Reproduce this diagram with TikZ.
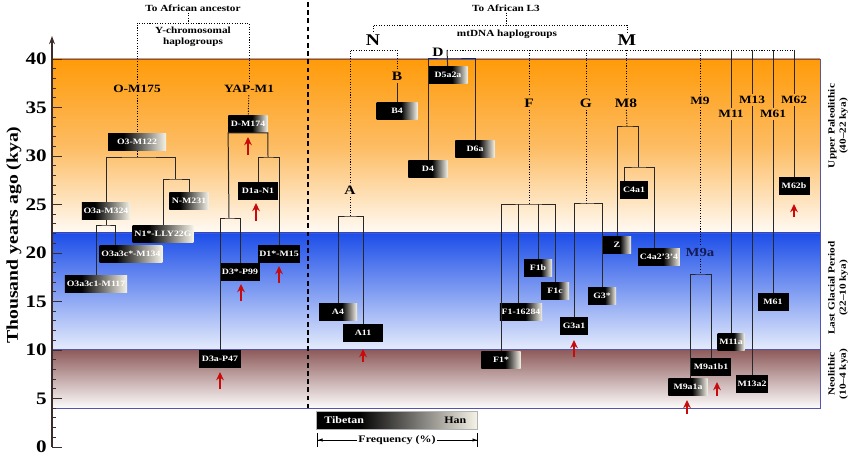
\documentclass[tikz,border=0pt]{standalone}
\usepackage{fontspec}
\setmainfont{Liberation Serif}[FakeStretch=1.2]
\usetikzlibrary{arrows.meta}

\definecolor{boxend}{RGB}{246,243,232}
\definecolor{upperband}{RGB}{255,155,10}
\definecolor{uppermid}{RGB}{253,188,98}
\definecolor{glacialband}{RGB}{28,78,232}
\definecolor{glacialend}{RGB}{228,235,252}
\definecolor{neoband}{RGB}{140,88,88}
\definecolor{bandline}{RGB}{85,85,175}
\definecolor{axiscol}{RGB}{60,45,45}
\definecolor{treecol}{RGB}{40,40,40}
\definecolor{gainred}{RGB}{200,10,10}
\definecolor{ninea}{RGB}{20,28,85}

\pgfdeclarehorizontalshading{fadeshort}{100bp}{color(0bp)=(black); color(25bp)=(black); color(55bp)=(black); color(75bp)=(boxend); color(100bp)=(boxend)}
\pgfdeclarehorizontalshading{fadelong}{100bp}{color(0bp)=(black); color(25bp)=(black); color(38bp)=(black); color(75bp)=(boxend); color(100bp)=(boxend)}

\begin{document}
\begin{tikzpicture}[x=0.03cm, y=-0.03cm,
    hap box/.style={rectangle, text=white, font=\fontsize{7}{8}\selectfont\bfseries,
      minimum height=0.52cm, minimum width=1.18cm, inner xsep=1.5pt, inner ysep=1pt},
    dark box/.style={hap box, fill=black},
    fade box/.style={hap box, shading=fadeshort},
    long box/.style={hap box, shading=fadelong},
    clade/.style={font=\fontsize{9.5}{10}\selectfont\bfseries, inner sep=2pt},
    big clade/.style={clade, font=\fontsize{11}{12}\selectfont\bfseries},
    root clade/.style={clade, font=\fontsize{14}{15}\selectfont\bfseries},
    caption/.style={font=\fontsize{8}{9.5}\selectfont\bfseries, align=center, inner sep=1pt},
    period/.style={caption, rotate=90},
    legend text/.style={font=\fontsize{8.5}{9}\selectfont\bfseries, inner sep=1pt},
    branch/.style={draw=treecol, line width=0.85pt},
    link/.style={draw=black, line width=0.8pt, dash pattern=on 0.9pt off 1.3pt},
    gain/.style={draw=gainred, line width=1.3pt, -{Stealth[length=7pt, width=6.5pt]}},
  ]
  \useasboundingbox (0,0) rectangle (850,459);

  % period bands
  \shade[top color=upperband, bottom color=white!96!upperband, middle color=uppermid] (52,59) rectangle (820,233);
  \shade[top color=glacialband, bottom color=glacialend] (52,233) rectangle (820,349);
  \shade[top color=neoband, bottom color=white!98!neoband] (52,349) rectangle (820,408);
  \draw[bandline, line width=0.6pt] (52,59) -- (820,59) -- (820,408) -- (52,408)
    (52,233) -- (820,233) (52,349) -- (820,349);
  \node[period] (upper) at (838,126) {Upper Paleolithic\\(40--22 kya)};
  \node[period] (glacial) at (838,288) {Last Glacial Period\\(22--10 kya)};
  \node[period] (neo) at (838,374) {Neolithic\\(10--4 kya)};

  % time axis
  \draw[axiscol, line width=1pt, -{Stealth[length=7pt, width=5pt]}] (52,447) -- (52,36);
  \foreach \k in {0,...,40}
    \draw[axiscol, line width=0.8pt] (52,{447-9.7*\k}) -- ++(4,0);
  \foreach \k in {0,5,...,40}{
    \draw[axiscol, line width=0.8pt] (52,{447-9.7*\k}) -- ++(10,0);
    \node[anchor=east, font=\fontsize{15}{16}\selectfont\bfseries, inner sep=1pt] at (48,{447-9.7*\k}) {\k};
  }
  \node[rotate=90, font=\fontsize{14}{16}\selectfont\bfseries] (ytitle) at (14,235) {Thousand years ago (kya)};

  \draw[line width=1.2pt, dash pattern=on 4pt off 3pt] (308,2) -- (308,408);

  % Y-chromosome
  \node[caption] (toanc) at (193,8) {To African ancestor};
  \node[caption] (ychr) at (193,37) {Y-chromosomal\\haplogroups};
  \coordinate (yj) at (188,23);
  \node[clade] (OM175) at (137,89) {O-M175};
  \node[clade] (YAPM1) at (249,89) {YAP-M1};
  \draw[link] (toanc.south -| yj) -- (yj);
  \draw[link] (OM175.north) |- (yj) -| (YAPM1.north);

  \node[long box, minimum width=1.74cm] (O3M122) at (137,142) {O3-M122};
  \node[long box, minimum width=1.41cm] (O3aM324) at (106,211) {O3a-M324};
  \node[long box] (NM231) at (189,201) {N-M231};
  \node[long box, minimum width=1.65cm] (N1LLY) at (163,234) {N1*-LLY22G};
  \node[long box, minimum width=1.86cm] (O3a3cM134) at (131,254) {O3a3c*-M134};
  \node[long box, minimum width=1.8cm] (O3a3c1M117) at (96,284) {O3a3c1-M117};
  \coordinate (oj) at (137,157);
  \coordinate (nj) at (175,179);
  \coordinate (o3j) at (106,225);
  \draw[link] (OM175) -- (O3M122);
  \draw[link] (O3M122) -- (oj);
  \draw[branch] (O3aM324.north) |- (oj) -| (nj);
  \draw[branch] (N1LLY.north) |- (nj) -| (NM231.north);
  \draw[branch] (O3aM324) -- (o3j);
  \draw[branch] (O3a3c1M117.north) |- (o3j) -| ([xshift=-0.48cm]O3a3cM134.north);

  \node[fade box] (DM174) at (248,124) {D-M174};
  \node[dark box] (D1aN1) at (258,191) {D1a-N1};
  \node[dark box] (D1sM15) at (279,254) {D1*-M15};
  \node[dark box] (D3sP99) at (240,272) {D3*-P99};
  \node[dark box, minimum width=1.26cm] (D3aP47) at (220,359) {D3a-P47};
  \coordinate (d1j) at (268,157);
  \coordinate (d3j) at (229,218);
  \draw[link] (YAPM1) -- (DM174);
  \draw[branch] (d3j) -- (DM174.south west) -- (DM174.south east) -- (d1j);
  \draw[branch] (D3aP47.north) |- (d3j) -| (D3sP99.north);
  \draw[branch] (D1aN1.north) |- (d1j) -| (D1sM15.north);

  % mtDNA
  \node[caption] (tol3) at (506,8) {To African L3};
  \node[caption] (mtdna) at (507,34) {mtDNA haplogroups};
  \coordinate (l3j) at (506,25);
  \node[root clade] (N) at (373,40) {N};
  \node[root clade] (M) at (627,40) {M};
  \draw[link] (tol3) -- (l3j);
  \draw[link] (N.north) |- (l3j) -| (M.north);

  \coordinate (nlj) at (373,50);
  \node[big clade] (A) at (350,190) {A};
  \node[big clade] (B) at (397,76) {B};
  \draw[link] (A.north) |- (nlj) -| (B.north);
  \node[fade box, minimum width=1.23cm] (B4) at (397,111) {B4};
  \draw[branch] (B) -- (B4);
  \node[fade box, minimum width=1.14cm] (A4) at (338,312) {A4};
  \node[dark box] (A11) at (363,333) {A11};
  \coordinate (aj) at (350,216);
  \draw[link] (A) -- (aj);
  \draw[branch] (A4.north) |- (aj) -| (A11.north);

  \node[big clade] (D) at (438,52) {D};
  \coordinate (mlj) at (447,50);
  \coordinate (mrj) at (794,50);
  \coordinate (dj) at (447,59);
  \node[fade box] (D5a2a) at (448,75) {D5a2a};
  \node[fade box] (D4) at (428,169) {D4};
  \node[fade box] (D6a) at (475,149) {D6a};
  \draw[link] (mlj) -- (mrj);
  \draw[branch] (mlj) -- (D5a2a);
  \draw[branch] (D4.north) |- (dj) -| (D6a.north);

  \node[big clade] (F) at (529,103) {F};
  \coordinate (fj) at (529,204);
  \node[fade box] (F1s) at (501,360) {F1*};
  \node[fade box] (F116284) at (521,312) {F1-16284};
  \node[fade box, minimum width=0.84cm] (F1b) at (538,268) {F1b};
  \node[fade box, minimum width=0.84cm] (F1c) at (555,291) {F1c};
  \draw[link] (F |- mlj) -- (F);
  \draw[link] (F) -- (fj);
  \draw[branch] (F1s.north) |- (fj) -| (F1c.north);
  \draw[branch] ([xshift=-0.09cm]F116284.north) -- ([xshift=-0.09cm]F116284.north |- fj);
  \draw[branch] (F1b.north) -- (F1b.north |- fj);

  \node[big clade] (G) at (586,103) {G};
  \coordinate (gj) at (586,203);
  \node[dark box, minimum width=0.82cm] (G3a1) at (574,326) {G3a1};
  \node[fade box, minimum width=0.84cm] (G3s) at (602,296) {G3*};
  \draw[link] (G |- mlj) -- (G);
  \draw[link] (G) -- (gj);
  \draw[branch] (G3a1.north) |- (gj) -| (G3s.north);

  \node[big clade] (M8) at (626,103) {M8};
  \coordinate (m8j) at (627,127);
  \coordinate (c4j) at (638,167);
  \node[fade box, minimum width=0.84cm] (Z) at (617,245) {Z};
  \node[dark box, minimum width=0.82cm] (C4a1) at (634,190) {C4a1};
  \node[fade box] (C4a234) at (659,257) {C4a2'3'4};
  \draw[link] (M8 |- mlj) -- (M8);
  \draw[link] (M8) -- (m8j);
  \draw[branch] (Z.north) |- (m8j) -| (c4j);
  \draw[branch] ([xshift=-0.3cm]C4a1.north) |- (c4j) -| ([xshift=-0.15cm]C4a234.north);

  \node[clade] (M9) at (700,101) {M9};
  \node[clade, text=ninea, font=\fontsize{10.5}{11}\selectfont\bfseries] (M9a) at (700,252) {M9a};
  \coordinate (m9j) at (700,274);
  \node[fade box] (M9a1a) at (688,387) {M9a1a};
  \node[dark box] (M9a1b1) at (711,367) {M9a1b1};
  \draw[link] (M9 |- mlj) -- (M9);
  \draw[link] (M9) -- (M9a);
  \draw[link] (M9a) -- (m9j);
  \draw[branch] ([xshift=0.06cm]M9a1a.north) |- (m9j) -| (M9a1b1.north);

  \node[clade] (M11) at (731,114) {M11};
  \node[clade] (M13) at (752,100) {M13};
  \node[clade] (M61) at (773,114) {M61};
  \node[clade] (M62) at (794,100) {M62};
  \node[fade box, minimum width=0.8cm] (M11a) at (731,342) {M11a};
  \node[dark box, minimum width=0.93cm] (M13a2) at (752,384) {M13a2};
  \node[dark box, minimum width=0.93cm] (M61b) at (773,302) {M61};
  \node[dark box, minimum width=0.93cm] (M62b) at (794,186) {M62b};
  \foreach \c/\b in {M11/M11a, M13/M13a2, M61/M61b, M62/M62b}{
    \draw[branch] (\c |- mlj) -- (\c);
    \draw[branch] (\c) -- (\b);
  }

  % red arrows
  \foreach \x/\yb/\yt in {248/155/137, 256/221/203, 241/301/284, 279/283/266, 220/389/372,
      363/362/349, 574/357/340, 794/217/204, 687/414/400, 717/396/382}
    \draw[gain] (\x,\yb) -- (\x,\yt);

  % legend
  \node[long box, minimum width=4.83cm, minimum height=0.54cm, draw=black!30, line width=0.4pt] (freqbar) at (397,420) {};
  \node[legend text, anchor=west, text=white] (tib) at ([xshift=0.2cm]freqbar.west) {Tibetan};
  \node[legend text, anchor=east] (han) at ([xshift=-0.3cm]freqbar.east) {Han};
  \node[legend text] (freq) at (397,440) {Frequency (\%)};
  \coordinate (fl) at (317,440);
  \coordinate (fr) at (478,440);
  \draw[line width=0.7pt, -{Latex[length=4pt, width=3pt] Bar[width=12pt]}] (freq.west) -- (fl);
  \draw[line width=0.7pt, -{Latex[length=4pt, width=3pt] Bar[width=12pt]}] (freq.east) -- (fr);
\end{tikzpicture}
\end{document}
